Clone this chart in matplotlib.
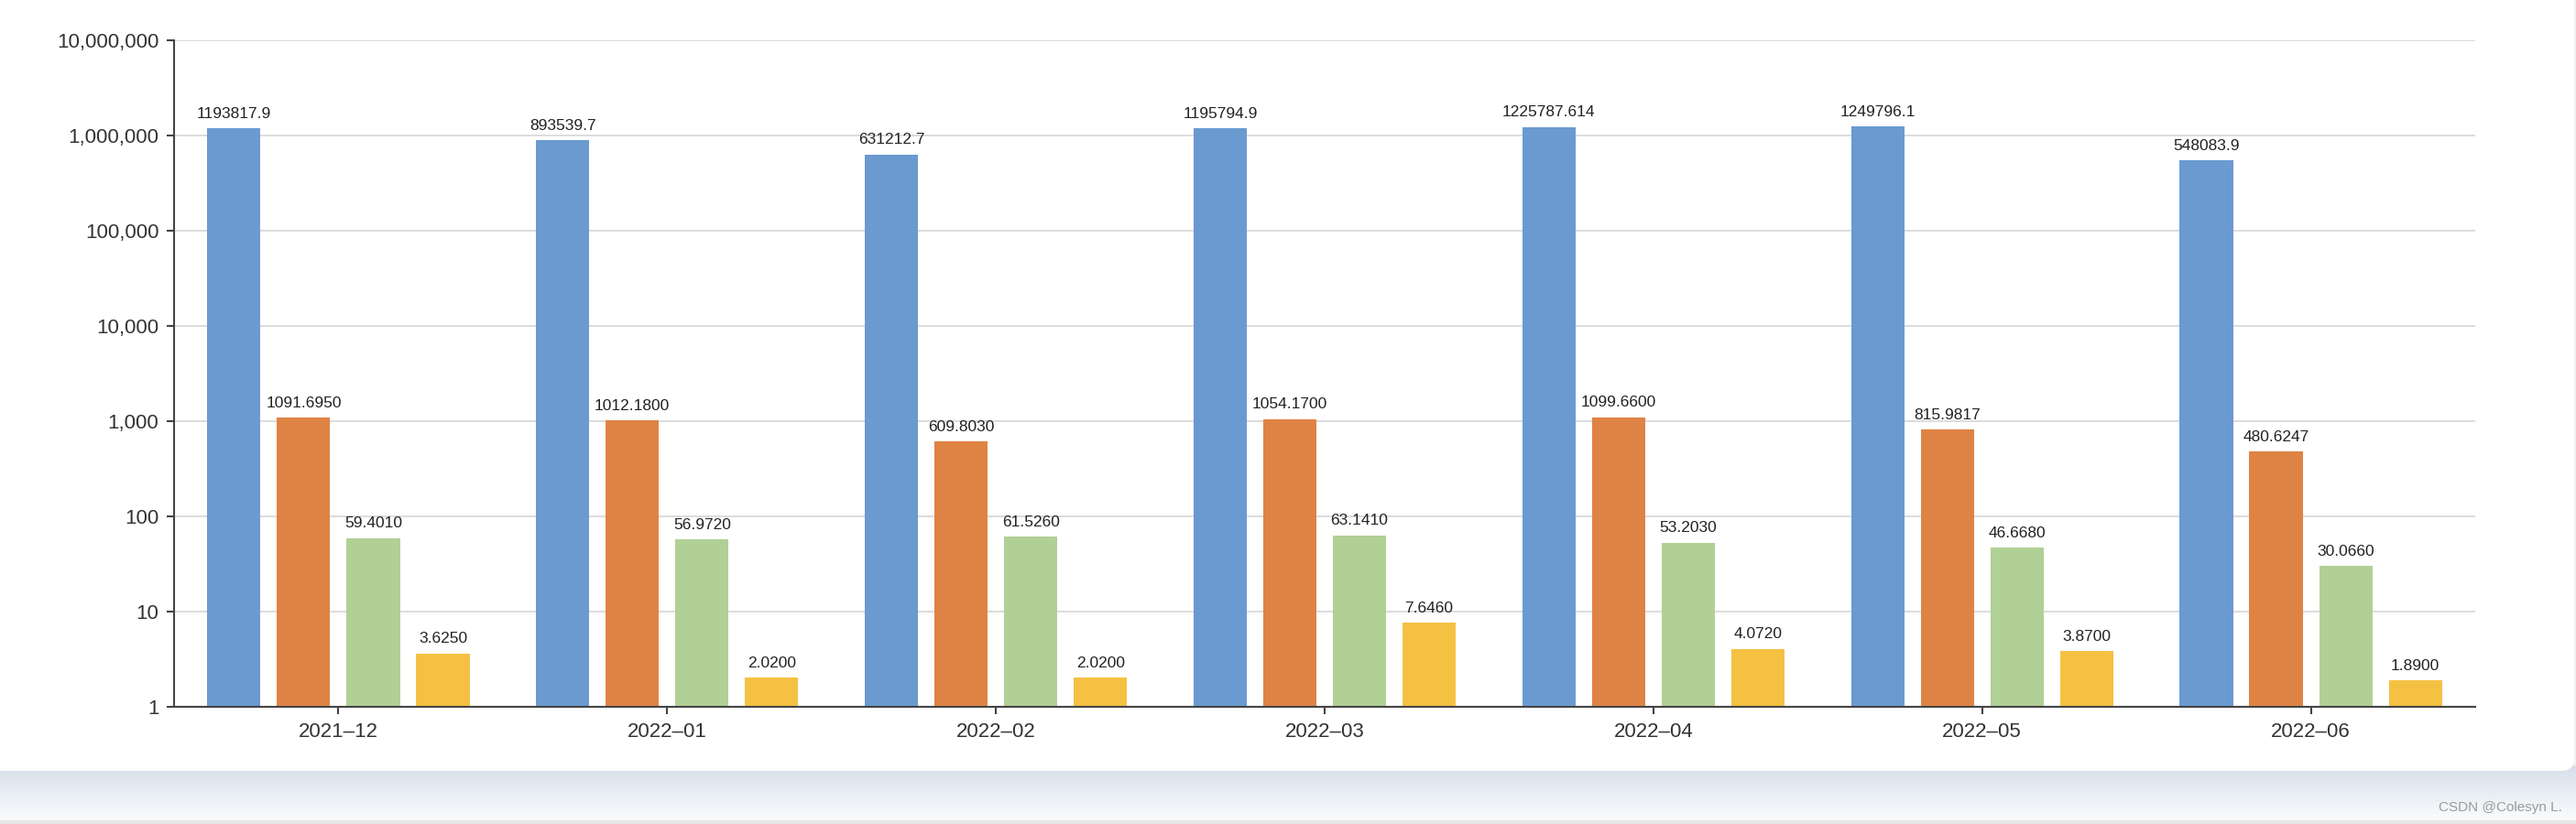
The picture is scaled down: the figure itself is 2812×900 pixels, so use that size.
import numpy as np
import matplotlib
matplotlib.use("Agg")
import matplotlib.pyplot as plt
from matplotlib.patches import FancyBboxPatch, Rectangle
from matplotlib.ticker import FuncFormatter

plt.rcParams['font.family'] = ['Liberation Sans', 'DejaVu Sans']

months = ["2021–12", "2022–01", "2022–02", "2022–03", "2022–04", "2022–05", "2022–06"]

# labels are shown exactly as in the source, values parsed from them
blue_labels = ["1193817.9", "893539.7", "631212.7", "1195794.9", "1225787.614", "1249796.1", "548083.9"]
orange_labels = ["1091.6950", "1012.1800", "609.8030", "1054.1700", "1099.6600", "815.9817", "480.6247"]
green_labels = ["59.4010", "56.9720", "61.5260", "63.1410", "53.2030", "46.6680", "30.0660"]
yellow_labels = ["3.6250", "2.0200", "2.0200", "7.6460", "4.0720", "3.8700", "1.8900"]

series = [blue_labels, orange_labels, green_labels, yellow_labels]
colors = ["#6a9ad0", "#df8344", "#b1d095", "#f4c142"]

W, H = 2812, 900
fig = plt.figure(figsize=(W / 100, H / 100), dpi=100)
fig.patch.set_facecolor("#f2f2f2")

# page background: gradient band under a white card
bg = fig.add_axes([0, 0, 1, 1], zorder=-10)
bg.set_xlim(0, W)
bg.set_ylim(H, 0)
bg.axis("off")
grad = np.linspace(0, 1, 100).reshape(-1, 1)
bg.imshow(grad, cmap=matplotlib.colors.LinearSegmentedColormap.from_list("g", ["#d6dfeb", "#fbfcfd"]),
          extent=[0, W, 896, 836], aspect="auto", zorder=0)
bg.add_patch(Rectangle((0, 896), W, 4, color="#e6e6e6", zorder=1))
bg.add_patch(FancyBboxPatch((-30, -30), W - 2 + 30, 842 + 30, boxstyle="round,pad=0,rounding_size=14",
                            facecolor="white", edgecolor="none", zorder=2))
bg.text(2797, 886, "CSDN @Colesyn L.", ha="right", va="baseline", fontsize=11, color="#9a9a9a", zorder=3)

x0, x1, y0, y1 = 190, 2702, 44, 772
ax = fig.add_axes([x0 / W, 1 - y1 / H, (x1 - x0) / W, (y1 - y0) / H])
ax.set_facecolor("none")

x = np.arange(len(months))
width = 0.162
step = 0.212
for i, (labels, c) in enumerate(zip(series, colors)):
    vals = [float(s) for s in labels]
    pos = x + (i - 1.5) * step
    bars = ax.bar(pos, vals, width=width, color=c, edgecolor=c, linewidth=0, zorder=3)
    for b, s in zip(bars, labels):
        ax.annotate(s, (b.get_x() + b.get_width() / 2, b.get_height()), xytext=(0, 6),
                    textcoords="offset points", ha="center", va="bottom", fontsize=12.5, color="#222222")

ax.set_yscale("log")
ax.set_ylim(1, 1e7)
ax.set_xlim(-0.5, len(months) - 0.5)
ax.set_yticks([10 ** k for k in range(8)])
ax.yaxis.set_major_formatter(FuncFormatter(lambda v, p: f"{int(round(v)):,}"))
ax.yaxis.set_minor_locator(matplotlib.ticker.NullLocator())
ax.set_xticks(x)
ax.set_xticklabels(months)

ax.grid(axis="y", color="#d9d9d9", linewidth=1.3, zorder=0)
for s in ["top", "right"]:
    ax.spines[s].set_visible(False)
for s in ["left", "bottom"]:
    ax.spines[s].set_color("#444444")
    ax.spines[s].set_linewidth(1.5)
    ax.spines[s].set_zorder(4)
ax.tick_params(axis="y", length=6, width=1.5, color="#444444", labelsize=16, labelcolor="#333333", pad=6)
ax.tick_params(axis="x", length=6, width=1.5, color="#444444", labelsize=16, labelcolor="#333333", pad=6)

fig.savefig("out.png", dpi=100, facecolor=fig.get_facecolor())
